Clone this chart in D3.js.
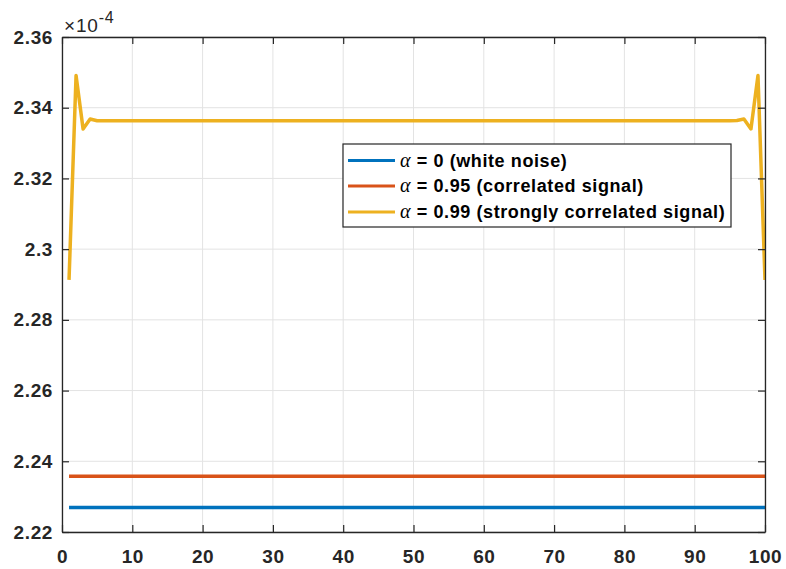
<!DOCTYPE html>
<html>
<head>
<meta charset="utf-8">
<script src="https://cdn.jsdelivr.net/npm/d3@7"></script>
<style>
  html, body { margin: 0; padding: 0; background: #fff; }
  svg { display: block; }
</style>
</head>
<body>
<svg id="chart" width="786" height="569"></svg>
<script>
// Sample index (1..100)
const sampleIndex = [
  1,2,3,4,5,6,7,8,9,10,11,12,13,14,15,16,17,18,19,20,
  21,22,23,24,25,26,27,28,29,30,31,32,33,34,35,36,37,38,39,40,
  41,42,43,44,45,46,47,48,49,50,51,52,53,54,55,56,57,58,59,60,
  61,62,63,64,65,66,67,68,69,70,71,72,73,74,75,76,77,78,79,80,
  81,82,83,84,85,86,87,88,89,90,91,92,93,94,95,96,97,98,99,100
];

// Values in units of 1e-4
const whiteNoise = [
  2.2269,2.2269,2.2269,2.2269,2.2269,2.2269,2.2269,2.2269,2.2269,2.2269,
  2.2269,2.2269,2.2269,2.2269,2.2269,2.2269,2.2269,2.2269,2.2269,2.2269,
  2.2269,2.2269,2.2269,2.2269,2.2269,2.2269,2.2269,2.2269,2.2269,2.2269,
  2.2269,2.2269,2.2269,2.2269,2.2269,2.2269,2.2269,2.2269,2.2269,2.2269,
  2.2269,2.2269,2.2269,2.2269,2.2269,2.2269,2.2269,2.2269,2.2269,2.2269,
  2.2269,2.2269,2.2269,2.2269,2.2269,2.2269,2.2269,2.2269,2.2269,2.2269,
  2.2269,2.2269,2.2269,2.2269,2.2269,2.2269,2.2269,2.2269,2.2269,2.2269,
  2.2269,2.2269,2.2269,2.2269,2.2269,2.2269,2.2269,2.2269,2.2269,2.2269,
  2.2269,2.2269,2.2269,2.2269,2.2269,2.2269,2.2269,2.2269,2.2269,2.2269,
  2.2269,2.2269,2.2269,2.2269,2.2269,2.2269,2.2269,2.2269,2.2269,2.2269
];
const correlated = [
  2.2358,2.2358,2.2358,2.2358,2.2358,2.2358,2.2358,2.2358,2.2358,2.2358,
  2.2358,2.2358,2.2358,2.2358,2.2358,2.2358,2.2358,2.2358,2.2358,2.2358,
  2.2358,2.2358,2.2358,2.2358,2.2358,2.2358,2.2358,2.2358,2.2358,2.2358,
  2.2358,2.2358,2.2358,2.2358,2.2358,2.2358,2.2358,2.2358,2.2358,2.2358,
  2.2358,2.2358,2.2358,2.2358,2.2358,2.2358,2.2358,2.2358,2.2358,2.2358,
  2.2358,2.2358,2.2358,2.2358,2.2358,2.2358,2.2358,2.2358,2.2358,2.2358,
  2.2358,2.2358,2.2358,2.2358,2.2358,2.2358,2.2358,2.2358,2.2358,2.2358,
  2.2358,2.2358,2.2358,2.2358,2.2358,2.2358,2.2358,2.2358,2.2358,2.2358,
  2.2358,2.2358,2.2358,2.2358,2.2358,2.2358,2.2358,2.2358,2.2358,2.2358,
  2.2358,2.2358,2.2358,2.2358,2.2358,2.2358,2.2358,2.2358,2.2358,2.2358
];
const stronglyCorrelated = [
  2.2913,2.3491,2.3340,2.3368,2.3363,2.3363,2.3363,2.3363,2.3363,2.3363,
  2.3363,2.3363,2.3363,2.3363,2.3363,2.3363,2.3363,2.3363,2.3363,2.3363,
  2.3363,2.3363,2.3363,2.3363,2.3363,2.3363,2.3363,2.3363,2.3363,2.3363,
  2.3363,2.3363,2.3363,2.3363,2.3363,2.3363,2.3363,2.3363,2.3363,2.3363,
  2.3363,2.3363,2.3363,2.3363,2.3363,2.3363,2.3363,2.3363,2.3363,2.3363,
  2.3363,2.3363,2.3363,2.3363,2.3363,2.3363,2.3363,2.3363,2.3363,2.3363,
  2.3363,2.3363,2.3363,2.3363,2.3363,2.3363,2.3363,2.3363,2.3363,2.3363,
  2.3363,2.3363,2.3363,2.3363,2.3363,2.3363,2.3363,2.3363,2.3363,2.3363,
  2.3363,2.3363,2.3363,2.3363,2.3363,2.3363,2.3363,2.3363,2.3363,2.3363,
  2.3363,2.3363,2.3363,2.3363,2.3363,2.3364,2.3368,2.3340,2.3491,2.2913
];

const xTicks = [0, 10, 20, 30, 40, 50, 60, 70, 80, 90, 100];
const yTicks = [2.22, 2.24, 2.26, 2.28, 2.3, 2.32, 2.34, 2.36];
const yTickLabels = ["2.22", "2.24", "2.26", "2.28", "2.3", "2.32", "2.34", "2.36"];

const seriesNames = ["= 0 (white noise)", "= 0.95 (correlated signal)", "= 0.99 (strongly correlated signal)"];
const seriesColors = ["#0072BD", "#D95319", "#EDB120"];
const seriesValues = [whiteNoise, correlated, stronglyCorrelated];

const svg = d3.select("#chart");
const plotLeft = 62, plotRight = 765, plotTop = 37, plotBottom = 532;
const axisColor = "#262626";
const tickLen = 7;
const sans = "Arial, 'Liberation Sans', sans-serif";

const x = d3.scaleLinear().domain([0, 100]).range([plotLeft, plotRight]);
const y = d3.scaleLinear().domain([2.22, 2.36]).range([plotBottom, plotTop]);

// grid
const grid = svg.append("g");
grid.selectAll("line.gx").data(xTicks).join("line")
  .attr("class", "gx")
  .attr("x1", d => x(d)).attr("x2", d => x(d))
  .attr("y1", plotTop).attr("y2", plotBottom)
  .attr("stroke", "#e3e3e3").attr("stroke-width", 1);
grid.selectAll("line.gy").data(yTicks).join("line")
  .attr("class", "gy")
  .attr("x1", plotLeft).attr("x2", plotRight)
  .attr("y1", d => y(d)).attr("y2", d => y(d))
  .attr("stroke", "#e3e3e3").attr("stroke-width", 1);

// data lines, clipped to the axes box
svg.append("clipPath").attr("id", "plotclip")
  .append("rect").attr("x", plotLeft).attr("y", plotTop)
  .attr("width", plotRight - plotLeft).attr("height", plotBottom - plotTop);

const line = d3.line().x((d, i) => x(sampleIndex[i])).y(d => y(d));
const lines = svg.append("g").attr("clip-path", "url(#plotclip)");
seriesValues.forEach((vals, k) => {
  lines.append("path").datum(vals)
    .attr("d", line)
    .attr("fill", "none")
    .attr("stroke", seriesColors[k])
    .attr("stroke-width", 3.5)
    .attr("stroke-linejoin", "round");
});

// axes (box with inward ticks)
const ax = svg.append("g");
const xAxisB = d3.axisBottom(x).tickValues(xTicks).tickSizeInner(-tickLen).tickSizeOuter(0).tickPadding(18);
const xAxisT = d3.axisTop(x).tickValues(xTicks).tickSizeInner(-tickLen).tickSizeOuter(0).tickFormat("");
const yAxisL = d3.axisLeft(y).tickValues(yTicks).tickSizeInner(-tickLen).tickSizeOuter(0).tickPadding(9)
  .tickFormat((d, i) => yTickLabels[i]);
const yAxisR = d3.axisRight(y).tickValues(yTicks).tickSizeInner(-tickLen).tickSizeOuter(0).tickFormat("");

const gB = ax.append("g").attr("transform", `translate(0,${plotBottom})`).call(xAxisB);
const gT = ax.append("g").attr("transform", `translate(0,${plotTop})`).call(xAxisT);
const gL = ax.append("g").attr("transform", `translate(${plotLeft},0)`).call(yAxisL);
const gR = ax.append("g").attr("transform", `translate(${plotRight},0)`).call(yAxisR);

[gB, gT, gL, gR].forEach(g => {
  g.selectAll("path.domain").attr("stroke", axisColor).attr("stroke-width", 1.3);
  g.selectAll(".tick line").attr("stroke", axisColor).attr("stroke-width", 1.2);
  g.selectAll(".tick text")
    .attr("fill", axisColor)
    .style("font-family", sans)
    .style("font-size", "19px")
    .style("font-weight", "bold")
    .style("letter-spacing", "0.6px");
});
gB.selectAll(".tick text").attr("dy", "0.71em");

// exponent label
const expo = svg.append("text")
  .attr("x", 64).attr("y", 32)
  .attr("fill", axisColor)
  .style("font-family", sans)
  .style("font-size", "19px")
  .style("letter-spacing", "0.8px");
expo.append("tspan").text("\u00d710");
expo.append("tspan").attr("dy", -9).style("font-size", "16px").text("-4");

// legend
const lgX = 343, lgY = 144, lgW = 388, lgH = 83;
const lg = svg.append("g");
lg.append("rect").attr("x", lgX).attr("y", lgY).attr("width", lgW).attr("height", lgH)
  .attr("fill", "#fff").attr("stroke", axisColor).attr("stroke-width", 1.2);
const rowY = [160.5, 186, 212];
seriesNames.forEach((name, k) => {
  lg.append("line")
    .attr("x1", 348).attr("x2", 395)
    .attr("y1", rowY[k]).attr("y2", rowY[k])
    .attr("stroke", seriesColors[k]).attr("stroke-width", 3);
  const t = lg.append("text")
    .attr("x", 400).attr("y", rowY[k]).attr("dy", "0.36em")
    .attr("fill", "#000")
    .style("font-family", sans)
    .style("font-size", "18px")
    .style("font-weight", "bold")
    .style("letter-spacing", "0.6px");
  t.append("tspan")
    .style("font-family", "'Liberation Serif', 'Times New Roman', serif")
    .style("font-style", "italic")
    .style("font-weight", "normal")
    .style("font-size", "20px")
    .text("\u03b1");
  t.append("tspan").text(" " + name);
});
</script>
</body>
</html>
